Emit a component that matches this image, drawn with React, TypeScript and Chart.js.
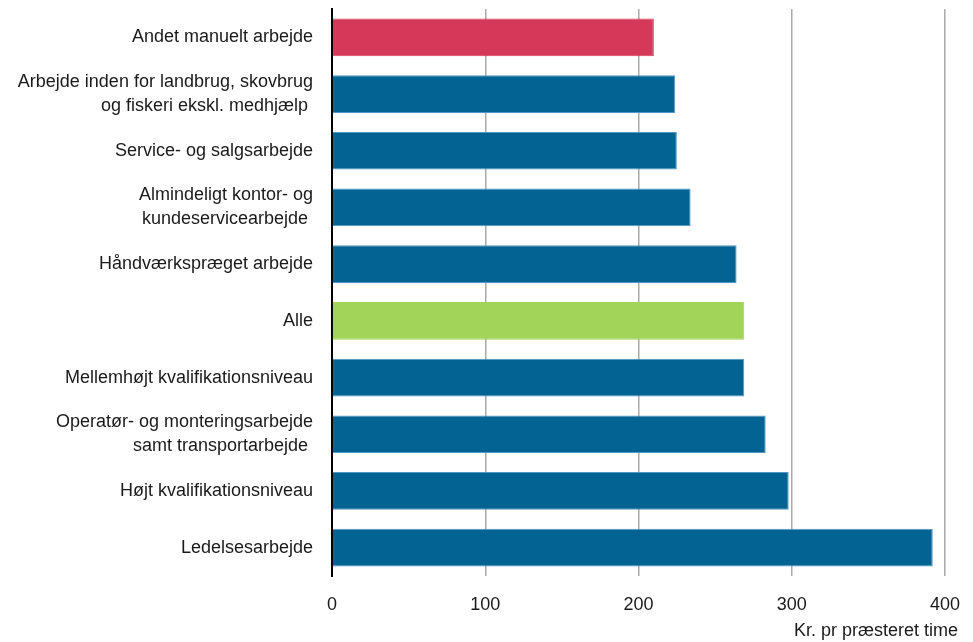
import React, { useEffect, useRef } from "react";
import { Chart, registerables } from "chart.js";

Chart.register(...registerables);

const categories: (string | string[])[] = [
  "Andet manuelt arbejde",
  ["Arbejde inden for landbrug, skovbrug", "og fiskeri ekskl. medhjælp "],
  "Service- og salgsarbejde",
  ["Almindeligt kontor- og", "kundeservicearbejde "],
  "Håndværkspræget arbejde",
  "Alle",
  "Mellemhøjt kvalifikationsniveau",
  ["Operatør- og monteringsarbejde", "samt transportarbejde "],
  "Højt kvalifikationsniveau",
  "Ledelsesarbejde",
];

const values = [210, 224, 225, 234, 264, 269, 269, 283, 298, 392];

const barColors = [
  "#d6385a",
  "#036494",
  "#036494",
  "#036494",
  "#036494",
  "#a2d45a",
  "#036494",
  "#036494",
  "#036494",
  "#036494",
];

const xTicks = [0, 100, 200, 300, 400];
const xTitle = "Kr. pr præsteret time";

const FONT = "'Liberation Sans', Arial, sans-serif";

export default function App() {
  const ref = useRef<HTMLCanvasElement | null>(null);

  useEffect(() => {
    if (!ref.current) return;
    const titlePlugin = {
      id: "xTitle",
      afterDraw(chart: any) {
        const { ctx, chartArea } = chart;
        ctx.save();
        ctx.font = `18px ${FONT}`;
        ctx.fillStyle = "#1a1a1a";
        ctx.textAlign = "right";
        ctx.textBaseline = "middle";
        ctx.fillText(xTitle, chartArea.right + 13, 631);
        ctx.restore();
      },
    };
    const chart = new Chart(ref.current, {
      type: "bar",
      data: {
        labels: categories,
        datasets: [
          {
            data: values,
            backgroundColor: barColors,
            borderColor: barColors.map((c) => (c === "#036494" ? "#4f97c4" : c)),
            borderWidth: 1,
            barPercentage: 0.665,
            categoryPercentage: 1,
          },
        ],
      },
      options: {
        indexAxis: "y",
        animation: false,
        responsive: false,
        maintainAspectRatio: false,
        layout: { padding: { top: 9, left: 0, right: 28, bottom: 0 } },
        plugins: {
          legend: { display: false },
          tooltip: { enabled: false },
        },
        scales: {
          x: {
            min: 0,
            max: 400,
            afterBuildTicks: (scale: any) => {
              scale.ticks = xTicks.map((v) => ({ value: v }));
            },
            afterFit: (scale: any) => {
              scale.height = 66;
              scale.paddingLeft = 0;
              scale.paddingRight = 0;
              scale.paddingTop = 0;
              scale.paddingBottom = 0;
            },
            grid: {
              color: "#aaaaaa",
              lineWidth: 1.5,
              drawTicks: false,
            },
            border: { display: false },
            ticks: {
              padding: 18,
              color: "#1a1a1a",
              font: { family: FONT, size: 18 },
            },
          },
          y: {
            afterFit: (scale: any) => {
              scale.width = 332;
              scale.paddingLeft = 0;
              scale.paddingRight = 0;
              scale.paddingTop = 0;
              scale.paddingBottom = 0;
            },
            grid: { display: false, drawTicks: false },
            border: { display: true, color: "#000000", width: 2 },
            ticks: {
              padding: 19,
              color: "#1a1a1a",
              font: { family: FONT, size: 18, lineHeight: 1.33 },
            },
          },
        },
      },
      plugins: [titlePlugin],
    });
    return () => chart.destroy();
  }, []);

  return (
    <div style={{ position: "fixed", left: 0, top: 0, width: 973, height: 642, background: "#fff" }}>
      <canvas ref={ref} width={973} height={642} style={{ width: 973, height: 642 }} />
    </div>
  );
}
